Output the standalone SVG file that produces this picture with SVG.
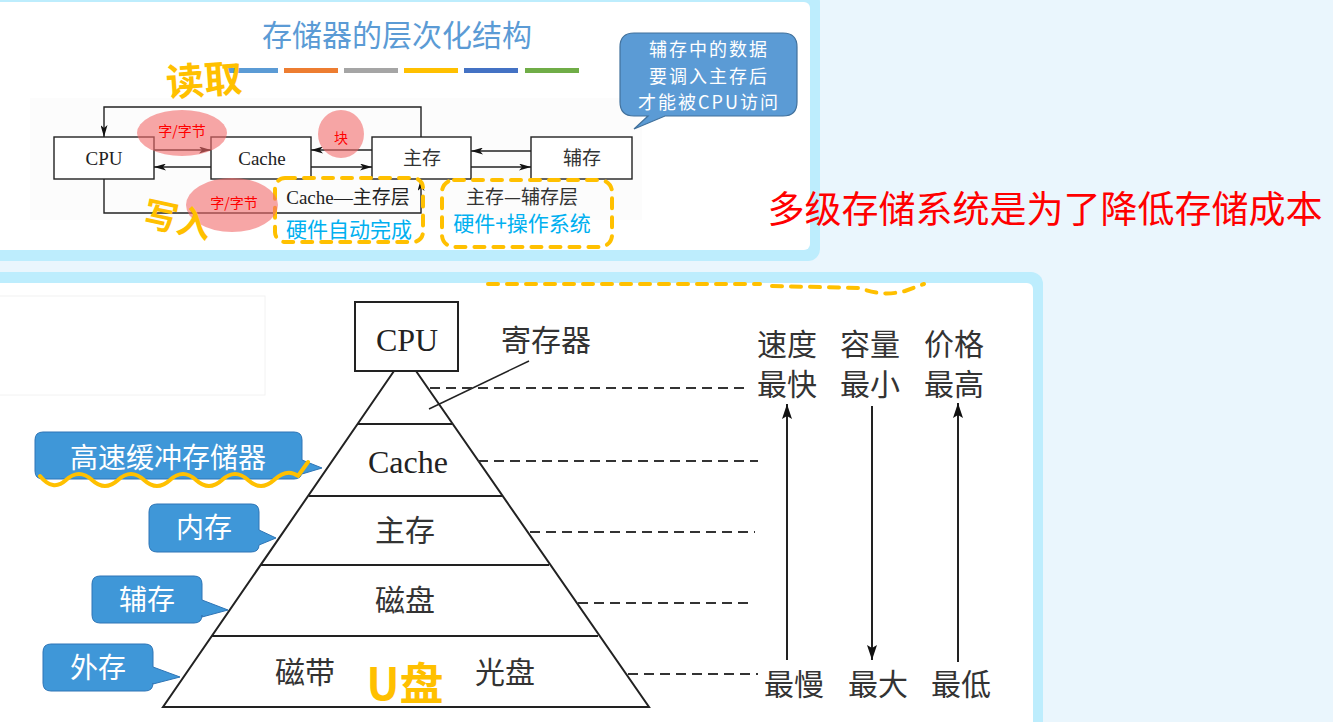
<svg xmlns="http://www.w3.org/2000/svg" width="1333" height="722" viewBox="0 0 1333 722">
<style>
.serif{font-family:"Liberation Serif","Noto Sans CJK SC",serif;fill:#222}
.cjk{font-family:"Noto Sans CJK SC",sans-serif}
.ln{stroke:#222;stroke-width:1.4;fill:none}
.pl{stroke:#222;stroke-width:2;fill:none}
.dash{stroke:#333;stroke-width:2.2;stroke-dasharray:10 6;fill:none}
.ydash{stroke:#FFC000;stroke-width:4;stroke-dasharray:10 9;stroke-linecap:round;fill:none}
.blob{fill:#F26B6B;opacity:0.6}
.call{fill:#3F97D8;stroke:#2E75B6;stroke-width:1}
.ctext{font-family:"Noto Sans CJK SC",sans-serif;fill:#fff;font-size:28px;text-anchor:middle}
.big{font-family:"Noto Sans CJK SC",sans-serif;fill:#333;font-size:30px;text-anchor:middle}
.hand{font-family:"Noto Sans CJK SC",sans-serif;fill:#FFC000;font-weight:700}
.btext{font-family:"Noto Sans CJK SC",sans-serif;fill:#fff;font-size:18px;letter-spacing:2px;text-anchor:middle}
</style>
<defs>
<marker id="ah" markerUnits="userSpaceOnUse" markerWidth="13" markerHeight="7" refX="12" refY="3.5" orient="auto"><path d="M0,0 L12,3.5 L0,7 L3,3.5 z" fill="#111"/></marker>
<marker id="ahb" markerUnits="userSpaceOnUse" markerWidth="16" markerHeight="10" refX="15" refY="5" orient="auto"><path d="M0,0 L15,5 L0,10 L3,5 z" fill="#111"/></marker>
</defs>
<rect x="0" y="0" width="1333" height="722" fill="#EAF6FD"/>
<g id="panel-top">
<rect x="-20" y="-10" width="840" height="271" rx="12" fill="#BDEDFD"/>
<rect x="-20" y="2" width="830" height="248" rx="6" fill="#fff"/>
<rect x="30" y="98" width="612" height="122" fill="#FCFCFC"/>
</g>
<g id="panel-bottom">
<rect x="-20" y="272" width="1063" height="470" rx="12" fill="#BDEDFD"/>
<rect x="-20" y="283" width="1053" height="460" rx="6" fill="#fff"/>
<rect x="-1" y="296" width="266" height="99" fill="none" stroke="#F2F2F2" stroke-width="1"/>
<path class="ydash" stroke-dasharray="6 30" d="M488,284 H760"/>
<path class="ydash" d="M772,286 L860,288 Q882,297 905,291 L924,284"/>
</g>
<g id="title">
<text x="397" y="46" class="cjk" font-size="30" fill="#5B9BD5" text-anchor="middle">存储器的层次化结构</text>
<rect x="228" y="68" width="50" height="5" fill="#5B9BD5"/>
<rect x="284" y="68" width="54" height="5" fill="#ED7D31"/>
<rect x="344" y="68" width="54" height="5" fill="#A5A5A5"/>
<rect x="404" y="68" width="54" height="5" fill="#FFC000"/>
<rect x="464" y="68" width="54" height="5" fill="#4472C4"/>
<rect x="525" y="68" width="54" height="5" fill="#70AD47"/>
</g>
<g id="bubble">
<path d="M634,33 H783 Q797,33 797,47 V102 Q797,116 783,116 H665 L634,129 L648,116 H634 Q620,116 620,102 V47 Q620,33 634,33 Z" fill="#5B9BD5" stroke="#41719C" stroke-width="1.2"/>
<text x="709" y="56" class="btext">辅存中的数据</text>
<text x="709" y="82.5" class="btext">要调入主存后</text>
<text x="709" y="109" class="btext">才能被CPU访问</text>
</g>
<g id="n-cpu"><rect x="54" y="137" width="100" height="42" fill="#fff" stroke="#222" stroke-width="1.4"/><text x="104" y="165" class="serif" font-size="19" text-anchor="middle">CPU</text></g>
<g id="n-cache"><rect x="211" y="137" width="100" height="42" fill="#fff" stroke="#222" stroke-width="1.4"/><text x="262" y="165" class="serif" font-size="19" text-anchor="middle">Cache</text></g>
<g id="n-main"><rect x="372" y="137" width="99" height="42" fill="#fff" stroke="#222" stroke-width="1.4"/><text x="422" y="165" class="cjk" font-size="19" fill="#333" text-anchor="middle">主存</text></g>
<g id="n-aux"><rect x="531" y="137" width="101" height="42" fill="#fff" stroke="#222" stroke-width="1.4"/><text x="582" y="165" class="cjk" font-size="19" fill="#333" text-anchor="middle">辅存</text></g>
<g id="connectors-top">
<path class="ln" d="M421,137 V107 H104 V137" marker-end="url(#ah)"/>
<path class="ln" d="M104,179 V213 H421 V179" marker-end="url(#ah)"/>
<path class="ln" d="M154,150 H211" marker-end="url(#ah)"/>
<path class="ln" d="M211,167 H154" marker-end="url(#ah)"/>
<path class="ln" d="M372,150 H311" marker-end="url(#ah)"/>
<path class="ln" d="M311,167 H372" marker-end="url(#ah)"/>
<path class="ln" d="M531,151 H471" marker-end="url(#ah)"/>
<path class="ln" d="M471,167 H531" marker-end="url(#ah)"/>
</g>
<g id="layer-labels">
<text x="348" y="204" class="serif" font-size="19" fill="#222" text-anchor="middle">Cache—主存层</text>
<text x="522" y="204" class="cjk" font-size="19" fill="#333" text-anchor="middle">主存—辅存层</text>
<text x="349" y="237" class="cjk" font-size="21" fill="#00B0F0" text-anchor="middle">硬件自动完成</text>
<text x="522" y="231" class="cjk" font-size="21" fill="#00B0F0" text-anchor="middle">硬件+操作系统</text>
<rect class="ydash" x="275" y="178" width="148" height="64" rx="10"/>
<rect class="ydash" x="442" y="180" width="170" height="67" rx="12"/>
</g>
<g id="blobs">
<ellipse class="blob" cx="182" cy="133" rx="45" ry="23"/>
<ellipse class="blob" cx="341" cy="134" rx="23" ry="24"/>
<ellipse class="blob" cx="232" cy="205" rx="46" ry="27"/>
<text x="182" y="136" class="cjk" font-size="14" fill="#FF0000" text-anchor="middle">字/字节</text>
<text x="341" y="143" class="cjk" font-size="14" fill="#FF0000" text-anchor="middle">块</text>
<text x="234" y="208" class="cjk" font-size="14" fill="#FF0000" text-anchor="middle">字/字节</text>
</g>
<g id="hand-top">
<text x="204" y="94" class="hand" font-size="38" text-anchor="middle" transform="rotate(-4 204 80)">读取</text>
<text x="178" y="232" class="hand" font-size="34" text-anchor="middle" transform="rotate(12 178 218)">写入</text>
</g>
<text x="1045" y="223" class="cjk" font-size="37" fill="#FF0000" text-anchor="middle">多级存储系统是为了降低存储成本</text>
<g id="pyramid">
<rect x="355" y="302" width="103" height="69" fill="#fff" stroke="#222" stroke-width="2"/>
<text x="407" y="351" class="serif" font-size="32" text-anchor="middle">CPU</text>
<path class="pl" d="M394,371 L163,707 H649 L416,371"/>
<path class="pl" d="M358,424 H452 M309,496 H502 M261,565 H549 M212,636 H598"/>
<text x="408" y="473" class="serif" font-size="32" text-anchor="middle">Cache</text>
<text x="405" y="541" class="big">主存</text>
<text x="405" y="611" class="big">磁盘</text>
<text x="305" y="683" class="big">磁带</text>
<text x="505" y="683" class="big">光盘</text>
<text x="546" y="351" class="big">寄存器</text>
<path class="ln" stroke-width="2" d="M529,361 L429,409"/>
</g>
<g id="connectors-bottom">
<path class="dash" d="M430,388 H750"/>
<path class="dash" d="M478,461 H758"/>
<path class="dash" d="M530,532 H755"/>
<path class="dash" d="M578,603 H753"/>
<path class="dash" d="M628,674 H758"/>
<path class="pl" d="M787,660 V404" marker-end="url(#ahb)"/>
<path class="pl" d="M872,406 V660" marker-end="url(#ahb)"/>
<path class="pl" d="M958,662 V403" marker-end="url(#ahb)"/>
</g>
<g id="metrics">
<text x="787" y="355" class="big">速度</text>
<text x="870" y="355" class="big">容量</text>
<text x="954" y="355" class="big">价格</text>
<text x="787" y="395" class="big">最快</text>
<text x="870" y="395" class="big">最小</text>
<text x="954" y="395" class="big">最高</text>
<text x="794" y="695" class="big">最慢</text>
<text x="878" y="695" class="big">最大</text>
<text x="961" y="695" class="big">最低</text>
</g>
<g id="callouts">
<path class="call" d="M43,432 H294 Q302,432 302,440 V460 L322,468 L302,474 V471 Q302,479 294,479 H43 Q35,479 35,471 V440 Q35,432 43,432 Z"/>
<text x="168" y="468" class="ctext">高速缓冲存储器</text>
<path class="call" d="M157,504 H251 Q259,504 259,512 V530 L276,538 L259,545 V545 Q259,552 251,552 H157 Q149,552 149,544 V512 Q149,504 157,504 Z"/>
<text x="204" y="538" class="ctext">内存</text>
<path class="call" d="M100,576 H194 Q202,576 202,584 V600 L228,610 L202,617 V615 Q202,623 194,623 H100 Q92,623 92,615 V584 Q92,576 100,576 Z"/>
<text x="147" y="610" class="ctext">辅存</text>
<path class="call" d="M51,644 H145 Q153,644 153,652 V667 L180,677 L153,684 V683 Q153,691 145,691 H51 Q43,691 43,683 V652 Q43,644 51,644 Z"/>
<text x="98" y="678" class="ctext">外存</text>
</g>
<g id="hand-bottom">
<path d="M40,476 Q53,492 66,480 T92,480 T118,480 T144,480 T170,480 T196,480 T222,480 T248,480 T274,480 T298,476 L308,462" fill="none" stroke="#FFC000" stroke-width="4" stroke-linecap="round" stroke-linejoin="round"/>
<text x="405" y="700" class="hand" font-size="44" text-anchor="middle">U盘</text>
</g>
</svg>
